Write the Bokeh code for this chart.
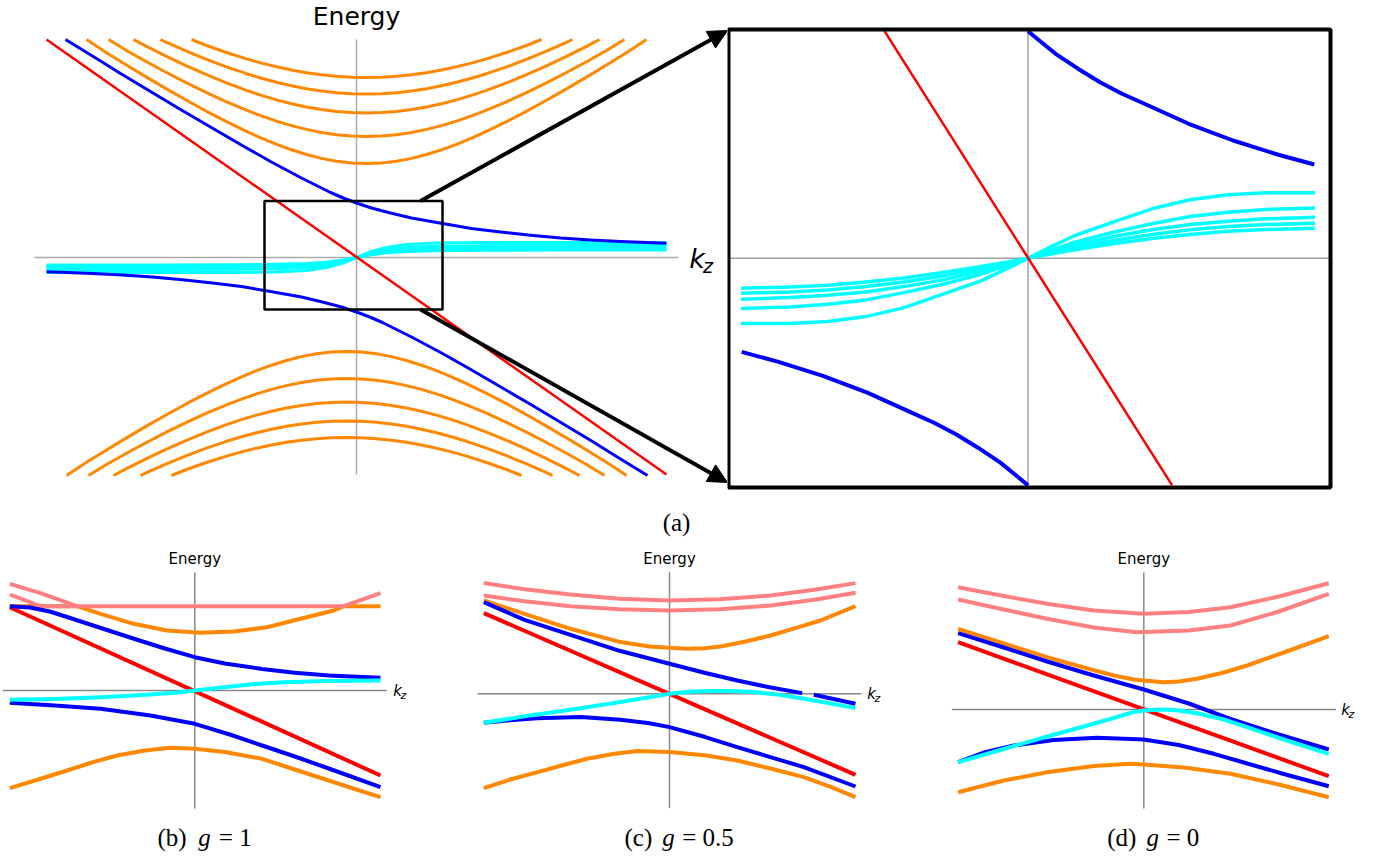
from bokeh.plotting import figure
from bokeh.layouts import column, row
from bokeh.models import Range1d, Arrow, NormalHead
from bokeh.core.properties import value
from bokeh.embed import file_html
from bokeh.resources import INLINE

NAN = float("nan")

# =========================== panel (a): main view ===========================
a_red_k = [-3.10, 3.10]
a_red_E = [2.18, -2.17]

a_blue_up_k = [-2.91, -2.60, -2.36, -2.06, -1.76, -1.46, -1.16, -0.86, -0.56, -0.40, -0.26, -0.12,
               0.0, 0.15, 0.34, 0.55, 0.86, 1.15, 1.44, 1.74, 2.04, 2.34, 2.64, 3.10]
a_blue_up_E = [2.18, 1.99, 1.84, 1.66, 1.48, 1.305, 1.13, 0.96, 0.80, 0.72, 0.65, 0.59,
               0.545, 0.495, 0.445, 0.395, 0.34, 0.29, 0.255, 0.222, 0.195, 0.175, 0.16, 0.143]
a_blue_lo_k = [-3.10, -2.64, -2.34, -2.04, -1.74, -1.44, -1.15, -0.86, -0.55, -0.34, -0.15, 0.0,
               0.12, 0.26, 0.40, 0.56, 0.86, 1.16, 1.46, 1.76, 2.06, 2.36, 2.60, 2.91]
a_blue_lo_E = [-0.143, -0.16, -0.175, -0.195, -0.222, -0.255, -0.29, -0.34, -0.395, -0.445, -0.495, -0.545,
               -0.59, -0.65, -0.72, -0.80, -0.96, -1.13, -1.305, -1.48, -1.66, -1.84, -1.99, -2.18]

a_cyan_k = [-3.10, -2.00, -1.20, -0.80, -0.50, -0.30, -0.15, 0.00, 0.15, 0.30, 0.50, 0.80, 1.20, 2.00, 3.10]
a_cyan_E = [
    [-0.150, -0.150, -0.150, -0.145, -0.130, -0.100, -0.060, 0.0, 0.060, 0.100, 0.130, 0.145, 0.150, 0.150, 0.150],
    [-0.120, -0.120, -0.118, -0.113, -0.100, -0.078, -0.045, 0.0, 0.045, 0.078, 0.100, 0.113, 0.118, 0.120, 0.120],
    [-0.100, -0.100, -0.098, -0.094, -0.083, -0.065, -0.038, 0.0, 0.038, 0.065, 0.083, 0.094, 0.098, 0.100, 0.100],
    [-0.085, -0.085, -0.083, -0.079, -0.070, -0.055, -0.032, 0.0, 0.032, 0.055, 0.070, 0.079, 0.083, 0.085, 0.085],
    [-0.075, -0.074, -0.072, -0.068, -0.060, -0.048, -0.028, 0.0, 0.028, 0.048, 0.060, 0.068, 0.072, 0.074, 0.075],
]

a_orange_up_k = [
    [-1.65, -1.50, -1.30, -1.10, -0.95, -0.80, -0.65, -0.50, -0.35, -0.20, -0.05, 0.10,
     0.25, 0.40, 0.55, 0.70, 0.85, 1.00, 1.15, 1.30, 1.50, 1.70, 1.85],
    [-1.96, -1.90, -1.70, -1.50, -1.30, -1.10, -0.95, -0.80, -0.65, -0.50, -0.35, -0.20, -0.05, 0.10,
     0.25, 0.40, 0.55, 0.70, 0.85, 1.00, 1.15, 1.30, 1.50, 1.70, 1.90, 2.10, 2.16],
    [-2.23, -2.10, -1.90, -1.70, -1.50, -1.30, -1.10, -0.95, -0.80, -0.65, -0.50, -0.35, -0.20, -0.05, 0.10,
     0.25, 0.40, 0.55, 0.70, 0.85, 1.00, 1.15, 1.30, 1.50, 1.70, 1.90, 2.10, 2.30, 2.43],
    [-2.48, -2.30, -2.10, -1.90, -1.70, -1.50, -1.30, -1.10, -0.95, -0.80, -0.65, -0.50, -0.35, -0.20, -0.05, 0.10,
     0.25, 0.40, 0.55, 0.70, 0.85, 1.00, 1.15, 1.30, 1.50, 1.70, 1.90, 2.10, 2.30, 2.50, 2.68],
    [-2.70, -2.50, -2.30, -2.10, -1.90, -1.70, -1.50, -1.30, -1.10, -0.95, -0.80, -0.65, -0.50, -0.35, -0.20, -0.05, 0.10,
     0.25, 0.40, 0.55, 0.70, 0.85, 1.00, 1.15, 1.30, 1.50, 1.70, 1.90, 2.10, 2.30, 2.50, 2.70, 2.90],
]
a_orange_up_E = [
    [2.18, 2.120, 2.050, 1.986, 1.944, 1.907, 1.875, 1.848, 1.827, 1.812, 1.803, 1.800,
     1.803, 1.812, 1.827, 1.848, 1.875, 1.907, 1.944, 1.986, 2.050, 2.120, 2.18],
    [2.18, 2.152, 2.064, 1.982, 1.906, 1.838, 1.793, 1.752, 1.717, 1.688, 1.665, 1.648, 1.638, 1.635,
     1.638, 1.648, 1.665, 1.688, 1.717, 1.752, 1.793, 1.838, 1.906, 1.982, 2.064, 2.152, 2.18],
    [2.18, 2.112, 2.012, 1.917, 1.828, 1.746, 1.671, 1.621, 1.576, 1.537, 1.505, 1.479, 1.460, 1.449, 1.445,
     1.449, 1.460, 1.479, 1.505, 1.537, 1.576, 1.621, 1.671, 1.746, 1.828, 1.917, 2.012, 2.112, 2.18],
    [2.18, 2.070, 1.958, 1.850, 1.747, 1.649, 1.557, 1.473, 1.416, 1.364, 1.319, 1.281, 1.250, 1.228, 1.215, 1.210,
     1.215, 1.228, 1.250, 1.281, 1.319, 1.364, 1.416, 1.473, 1.557, 1.649, 1.747, 1.850, 1.958, 2.070, 2.18],
    [2.18, 2.048, 1.925, 1.804, 1.686, 1.572, 1.462, 1.358, 1.261, 1.193, 1.132, 1.077, 1.030, 0.991, 0.963, 0.946, 0.940,
     0.946, 0.963, 0.991, 1.030, 1.077, 1.132, 1.193, 1.261, 1.358, 1.462, 1.572, 1.686, 1.804, 1.925, 2.048, 2.18],
]
a_orange_lo_k = [
    [-1.85, -1.70, -1.50, -1.30, -1.15, -1.00, -0.85, -0.70, -0.55, -0.40, -0.25, -0.10,
     0.05, 0.20, 0.35, 0.50, 0.65, 0.80, 0.95, 1.10, 1.30, 1.50, 1.65],
    [-2.16, -2.10, -1.90, -1.70, -1.50, -1.30, -1.15, -1.00, -0.85, -0.70, -0.55, -0.40, -0.25, -0.10,
     0.05, 0.20, 0.35, 0.50, 0.65, 0.80, 0.95, 1.10, 1.30, 1.50, 1.70, 1.90, 1.96],
    [-2.43, -2.30, -2.10, -1.90, -1.70, -1.50, -1.30, -1.15, -1.00, -0.85, -0.70, -0.55, -0.40, -0.25, -0.10,
     0.05, 0.20, 0.35, 0.50, 0.65, 0.80, 0.95, 1.10, 1.30, 1.50, 1.70, 1.90, 2.10, 2.23],
    [-2.68, -2.50, -2.30, -2.10, -1.90, -1.70, -1.50, -1.30, -1.15, -1.00, -0.85, -0.70, -0.55, -0.40, -0.25, -0.10,
     0.05, 0.20, 0.35, 0.50, 0.65, 0.80, 0.95, 1.10, 1.30, 1.50, 1.70, 1.90, 2.10, 2.30, 2.48],
    [-2.90, -2.70, -2.50, -2.30, -2.10, -1.90, -1.70, -1.50, -1.30, -1.15, -1.00, -0.85, -0.70, -0.55, -0.40, -0.25, -0.10,
     0.05, 0.20, 0.35, 0.50, 0.65, 0.80, 0.95, 1.10, 1.30, 1.50, 1.70, 1.90, 2.10, 2.30, 2.50, 2.70],
]
a_orange_lo_E = [
    [-2.18, -2.120, -2.050, -1.986, -1.944, -1.907, -1.875, -1.848, -1.827, -1.812, -1.803, -1.800,
     -1.803, -1.812, -1.827, -1.848, -1.875, -1.907, -1.944, -1.986, -2.050, -2.120, -2.18],
    [-2.18, -2.152, -2.064, -1.982, -1.906, -1.838, -1.793, -1.752, -1.717, -1.688, -1.665, -1.648, -1.638, -1.635,
     -1.638, -1.648, -1.665, -1.688, -1.717, -1.752, -1.793, -1.838, -1.906, -1.982, -2.064, -2.152, -2.18],
    [-2.18, -2.112, -2.012, -1.917, -1.828, -1.746, -1.671, -1.621, -1.576, -1.537, -1.505, -1.479, -1.460, -1.449, -1.445,
     -1.449, -1.460, -1.479, -1.505, -1.537, -1.576, -1.621, -1.671, -1.746, -1.828, -1.917, -2.012, -2.112, -2.18],
    [-2.18, -2.070, -1.958, -1.850, -1.747, -1.649, -1.557, -1.473, -1.416, -1.364, -1.319, -1.281, -1.250, -1.228, -1.215, -1.210,
     -1.215, -1.228, -1.250, -1.281, -1.319, -1.364, -1.416, -1.473, -1.557, -1.649, -1.747, -1.850, -1.958, -2.070, -2.18],
    [-2.18, -2.048, -1.925, -1.804, -1.686, -1.572, -1.462, -1.358, -1.261, -1.193, -1.132, -1.077, -1.030, -0.991, -0.963, -0.946, -0.940,
     -0.946, -0.963, -0.991, -1.030, -1.077, -1.132, -1.193, -1.261, -1.358, -1.462, -1.572, -1.686, -1.804, -1.925, -2.048, -2.18],
]
a_axis_k = [-3.22, 3.22]
a_axis_E = [-2.17, 2.18]
a_zoom_k = [-0.92, 0.86]      # window that the inset magnifies
a_zoom_E = [-0.52, 0.565]

# =========================== panel (a): inset ===============================
z_frame_k = [-2.995, 3.025]
z_frame_E = [-2.293, 2.287]
z_red_k = [-1.435, 1.44]
z_red_E = [2.27, -2.27]
z_blue_up_k = [0.0, 0.14, 0.276, 0.50, 0.72, 0.94, 1.164, 1.607, 2.051, 2.495, 2.863]
z_blue_up_E = [2.27, 2.155, 2.044, 1.895, 1.76, 1.645, 1.544, 1.344, 1.177, 1.037, 0.937]
z_blue_lo_k = [-2.863, -2.495, -2.051, -1.607, -1.164, -0.94, -0.72, -0.50, -0.276, -0.14, 0.0]
z_blue_lo_E = [-0.937, -1.037, -1.177, -1.344, -1.544, -1.645, -1.76, -1.895, -2.044, -2.155, -2.27]
z_cyan_k = [-2.87, -2.38, -2.00, -1.62, -1.24, -0.85, -0.47, -0.20, 0.0, 0.20, 0.47, 0.85, 1.24, 1.62, 2.00, 2.38, 2.87]
z_cyan_E = [
    [-0.654, -0.654, -0.634, -0.584, -0.494, -0.36, -0.227, -0.10, 0.0, 0.10, 0.227, 0.36, 0.494, 0.584, 0.634, 0.654, 0.654],
    [-0.503, -0.487, -0.46, -0.417, -0.344, -0.26, -0.16, -0.07, 0.0, 0.07, 0.16, 0.26, 0.344, 0.417, 0.46, 0.487, 0.503],
    [-0.41, -0.394, -0.37, -0.337, -0.284, -0.217, -0.127, -0.055, 0.0, 0.055, 0.127, 0.217, 0.284, 0.337, 0.37, 0.394, 0.41],
    [-0.35, -0.337, -0.317, -0.284, -0.237, -0.177, -0.104, -0.045, 0.0, 0.045, 0.104, 0.177, 0.237, 0.284, 0.317, 0.337, 0.35],
    [-0.30, -0.287, -0.27, -0.237, -0.197, -0.144, -0.084, -0.037, 0.0, 0.037, 0.084, 0.144, 0.197, 0.237, 0.27, 0.287, 0.30],
]

# =========================== panel (b): g = 1 ===============================
b_pink_k = [[-1.85, -1.543, -1.177, 1.49, 1.857], [-1.85, -1.543, -1.177]]
b_pink_E = [[1.067, 0.973, 0.843, 0.843, 0.973], [0.96, 0.843, 0.843]]
b_orange_up_k = [-1.85, -1.177, -0.943, -0.61, -0.277, 0.057, 0.39, 0.723, 1.057, 1.39, 1.49, 1.857]
b_orange_up_E = [0.843, 0.843, 0.767, 0.667, 0.60, 0.577, 0.59, 0.633, 0.717, 0.80, 0.843, 0.843]
b_orange_lo_k = [-1.85, -1.55, -1.277, -1.03, -0.777, -0.50, -0.243, 0.0, 0.30, 0.673, 1.0, 1.34, 1.60, 1.857]
b_orange_lo_E = [-0.977, -0.885, -0.80, -0.72, -0.65, -0.60, -0.573, -0.583, -0.615, -0.683, -0.79, -0.90, -0.985, -1.067]
b_red_k = [-1.85, 1.857]
b_red_E = [0.833, -0.85]
b_blue_up_k = [-1.85, -1.65, -1.45, -1.20, -0.94, -0.60, -0.30, 0.0, 0.30, 0.673, 1.0, 1.34, 1.857]
b_blue_up_E = [0.843, 0.83, 0.79, 0.71, 0.625, 0.515, 0.42, 0.333, 0.27, 0.215, 0.178, 0.15, 0.127]
b_blue_lo_k = [-1.85, -1.40, -0.943, -0.443, 0.0, 0.35, 0.673, 1.0, 1.34, 1.857]
b_blue_lo_E = [-0.123, -0.15, -0.183, -0.25, -0.333, -0.44, -0.55, -0.66, -0.78, -0.967]
b_cyan_k = [-1.85, -1.40, -0.943, -0.60, -0.443, -0.20, 0.0, 0.20, 0.39, 0.60, 0.89, 1.30, 1.857]
b_cyan_E = [-0.093, -0.085, -0.067, -0.05, -0.04, -0.022, 0.0, 0.022, 0.043, 0.065, 0.083, 0.095, 0.10]

# =========================== panel (c): g = 0.5 =============================
c_pink_k = [-1.857, -1.45, -0.99, -0.50, 0.0, 0.50, 1.01, 1.45, 1.86]
c_pink_E = [[1.107, 1.045, 0.993, 0.95, 0.933, 0.945, 0.983, 1.04, 1.107],
            [0.983, 0.925, 0.876, 0.845, 0.833, 0.845, 0.883, 0.94, 1.01]]
c_orange_up_k = [-1.857, -1.45, -0.99, -0.49, -0.20, 0.0, 0.177, 0.35, 0.51, 0.75, 1.01, 1.25, 1.51, 1.86]
c_orange_up_E = [0.933, 0.80, 0.65, 0.517, 0.472, 0.46, 0.45, 0.455, 0.473, 0.52, 0.583, 0.655, 0.733, 0.876]
c_orange_lo_k = [-1.857, -1.60, -1.32, -1.05, -0.823, -0.55, -0.323, 0.0, 0.35, 0.677, 1.0, 1.343, 1.60, 1.86]
c_orange_lo_E = [-0.943, -0.86, -0.783, -0.71, -0.65, -0.60, -0.573, -0.583, -0.615, -0.667, -0.745, -0.833, -0.925, -1.033]
c_red_k = [-1.857, 1.86]
c_red_E = [0.807, -0.81]
c_blue_up_k = [-1.857, -1.45, -0.99, -0.50, 0.0, 0.35, 0.677, 1.0, 1.327, NAN, 1.443, 1.86]
c_blue_up_E = [0.917, 0.74, 0.59, 0.43, 0.30, 0.21, 0.133, 0.065, 0.007, NAN, -0.01, -0.10]
c_blue_lo_k = [-1.857, -1.60, -1.32, -0.89, -0.49, -0.20, 0.0, 0.35, 0.677, 1.0, 1.343, 1.86]
c_blue_lo_E = [-0.29, -0.265, -0.245, -0.233, -0.26, -0.295, -0.333, -0.43, -0.533, -0.63, -0.733, -0.927]
c_cyan_k = [-1.857, -1.45, -0.99, -0.49, -0.20, 0.0, 0.20, 0.41, 0.60, 0.843, 1.10, 1.343, 1.60, 1.86]
c_cyan_E = [-0.29, -0.225, -0.16, -0.083, -0.035, 0.0, 0.02, 0.027, 0.027, 0.017, -0.01, -0.05, -0.095, -0.143]

# =========================== panel (d): g = 0 ===============================
d_pink_k = [[-1.857, -1.40, -0.967, -0.50, 0.0, 0.45, 0.867, 1.35, 1.85],
            [-1.857, -1.40, -0.967, -0.50, -0.067, 0.45, 0.867, 1.35, 1.85]]
d_pink_E = [[1.223, 1.135, 1.057, 0.99, 0.957, 0.975, 1.023, 1.13, 1.263],
            [1.10, 1.00, 0.907, 0.82, 0.773, 0.79, 0.84, 0.98, 1.157]]
d_orange_up_k = [-1.857, -1.40, -0.967, -0.60, -0.30, -0.10, 0.0, 0.20, 0.35, 0.533, 0.80, 1.033, 1.40, 1.85]
d_orange_up_E = [0.807, 0.66, 0.523, 0.42, 0.34, 0.30, 0.29, 0.273, 0.28, 0.307, 0.37, 0.44, 0.57, 0.733]
d_orange_lo_k = [-1.857, -1.40, -0.967, -0.50, -0.133, 0.0, 0.40, 0.867, 1.35, 1.85]
d_orange_lo_E = [-0.827, -0.71, -0.627, -0.565, -0.543, -0.55, -0.58, -0.643, -0.75, -0.877]
d_red_k = [-1.857, 1.85]
d_red_E = [0.673, -0.667]
d_blue_up_k = [-1.857, -1.40, -0.967, -0.50, 0.0, 0.45, 0.867, 1.35, 1.85]
d_blue_up_E = [0.763, 0.62, 0.48, 0.34, 0.20, 0.06, -0.093, -0.25, -0.40]
d_blue_lo_k = [-1.857, -1.60, -1.30, -0.90, -0.467, 0.0, 0.35, 0.70, 1.0, 1.40, 1.85]
d_blue_lo_E = [-0.527, -0.43, -0.36, -0.305, -0.283, -0.30, -0.355, -0.443, -0.53, -0.645, -0.767]
d_cyan_k = [-1.857, -1.40, -0.967, -0.60, -0.30, -0.10, 0.0, 0.20, 0.35, 0.533, 0.80, 1.033, 1.40, 1.85]
d_cyan_E = [-0.527, -0.395, -0.27, -0.17, -0.085, -0.025, -0.01, 0.0, -0.01, -0.037, -0.10, -0.177, -0.30, -0.443]

small_axis_k = [-1.92, 1.92]

# ------------------------------------------------------------------ styles
ORANGE = "#ff8800"
PINK = "#ff8080"
RED = "#ff0000"
BLUE = "#0000ff"
CYAN = "#00ffff"
SANS = value("DejaVu Sans")
SERIF = value("Liberation Serif")


def make_fig(w, h, xr, yr):
    p = figure(width=w, height=h, x_range=Range1d(*xr), y_range=Range1d(*yr),
               output_backend="svg", toolbar_location=None,
               x_axis_location=None, y_axis_location=None,
               min_border=0, outline_line_color=None,
               background_fill_color="white", border_fill_color="white")
    p.grid.visible = False
    return p


def ln(p, x, y, color, w):
    p.line(x, y, line_color=color, line_width=w, line_join="round")


def txt(p, x, y, s, font, size, align="left", style="normal"):
    p.text(x=[x], y=[y], text=[s], text_font=font, text_font_size=size, text_font_style=style,
           text_align=align, text_baseline="alphabetic", text_color="black")


# ------------------------------------------------------------------ (a) main
pa = make_fig(727, 540, (-3.56, 3.71), (-2.83, 2.57))
ln(pa, a_axis_k, [0, 0], "#aaaaaa", 1.5)
ln(pa, [0, 0], a_axis_E, "#aaaaaa", 1.5)
for k, E in zip(a_orange_up_k, a_orange_up_E):
    ln(pa, k, E, ORANGE, 3)
for k, E in zip(a_orange_lo_k, a_orange_lo_E):
    ln(pa, k, E, ORANGE, 3)
for E in a_cyan_E:
    ln(pa, a_cyan_k, E, CYAN, 3)
ln(pa, a_blue_up_k, a_blue_up_E, BLUE, 3)
ln(pa, a_blue_lo_k, a_blue_lo_E, BLUE, 3)
ln(pa, a_red_k, a_red_E, RED, 2.5)
pa.quad(left=[a_zoom_k[0]], right=[a_zoom_k[1]], bottom=[a_zoom_E[0]], top=[a_zoom_E[1]],
        fill_color=None, line_color="black", line_width=2.5)
for ys, ye in ((a_zoom_E[1], 2.27), (a_zoom_E[0], -2.25)):
    pa.add_layout(Arrow(x_start=0.64, y_start=ys, x_end=3.71, y_end=ye,
                        line_color="black", line_width=4,
                        end=NormalHead(size=19, fill_color="black", line_color="black", line_width=1)))
txt(pa, 0, 2.41, "Energy", SANS, "25px", align="center")
txt(pa, 3.327, -0.01, "k", SANS, "27px", style="italic")
txt(pa, 3.465, -0.085, "z", SANS, "19px", style="italic")
txt(pa, 3.20, -2.645, "(a)", SERIF, "25px", align="center")

# ------------------------------------------------------------------ (a) inset
pz = make_fig(668, 540, (-3.005, 3.675), (-2.823, 2.577))
ln(pz, z_frame_k, [0, 0], "#a0a0a0", 1.5)
ln(pz, [0, 0], z_frame_E, "#a0a0a0", 1.5)
for E in z_cyan_E:
    ln(pz, z_cyan_k, E, CYAN, 3.5)
ln(pz, z_blue_up_k, z_blue_up_E, BLUE, 4)
ln(pz, z_blue_lo_k, z_blue_lo_E, BLUE, 4)
ln(pz, z_red_k, z_red_E, RED, 2.5)
pz.quad(left=[z_frame_k[0]], right=[z_frame_k[1]], bottom=[z_frame_E[0]], top=[z_frame_E[1]],
        fill_color=None, line_color="black", line_width=4)


# ------------------------------------------------------------------ bottom panels
def small_panel(w, xr, yr, vaxis, energy_y, kz_x, caption, cap_y, cap_x, curves):
    p = make_fig(w, 318, xr, yr)
    ln(p, small_axis_k, [0, 0], "#888888", 1.5)
    ln(p, [0, 0], vaxis, "#888888", 1.5)
    for k, E, c in curves:
        ln(p, k, E, c, 4)
    txt(p, 0, energy_y, "Energy", SANS, "15px", align="center")
    txt(p, kz_x, 0.0, "k", SANS, "15px", style="italic")
    txt(p, kz_x + 0.073, -0.05, "z", SANS, "11px", style="italic")
    parts = [("(" + caption[0] + ")", "normal"), ("g", "italic"), ("= " + caption[1], "normal")]
    for (s, style), x in zip(parts, cap_x):
        txt(p, x, cap_y, s, SERIF, "25px", style=style)
    return p


pb = small_panel(470, (-1.943, 2.757), (-1.68, 1.50), [-1.18, 1.18], 1.315, 1.984,
                 ("b", "1"), -1.47, (-0.373, 0.034, 0.24),
                 [(b_orange_up_k, b_orange_up_E, ORANGE),
                  (b_orange_lo_k, b_orange_lo_E, ORANGE),
                  (b_pink_k[0], b_pink_E[0], PINK),
                  (b_pink_k[1], b_pink_E[1], PINK),
                  (b_red_k, b_red_E, RED),
                  (b_blue_up_k, b_blue_up_E, BLUE),
                  (b_blue_lo_k, b_blue_lo_E, BLUE),
                  (b_cyan_k, b_cyan_E, CYAN)])

pc = small_panel(465, (-1.99, 2.66), (-1.647, 1.533), [-1.144, 1.216], 1.348, 1.977,
                 ("c", "0.5"), -1.437, (-0.45, -0.073, 0.127),
                 [(c_pink_k, c_pink_E[0], PINK),
                  (c_pink_k, c_pink_E[1], PINK),
                  (c_orange_up_k, c_orange_up_E, ORANGE),
                  (c_orange_lo_k, c_orange_lo_E, ORANGE),
                  (c_red_k, c_red_E, RED),
                  (c_blue_up_k, c_blue_up_E, BLUE),
                  (c_blue_lo_k, c_blue_lo_E, BLUE),
                  (c_cyan_k, c_cyan_E, CYAN)])

pd = small_panel(460, (-2.083, 2.517), (-1.49, 1.69), [-0.99, 1.37], 1.505, 1.974,
                 ("d", "0"), -1.28, (-0.366, 0.027, 0.227),
                 [(d_pink_k[0], d_pink_E[0], PINK),
                  (d_pink_k[1], d_pink_E[1], PINK),
                  (d_orange_up_k, d_orange_up_E, ORANGE),
                  (d_orange_lo_k, d_orange_lo_E, ORANGE),
                  (d_red_k, d_red_E, RED),
                  (d_blue_up_k, d_blue_up_E, BLUE),
                  (d_blue_lo_k, d_blue_lo_E, BLUE),
                  (d_cyan_k, d_cyan_E, CYAN)])

layout = column(row(pa, pz), row(pb, pc, pd))
open("out.html", "w").write(file_html(layout, INLINE))
